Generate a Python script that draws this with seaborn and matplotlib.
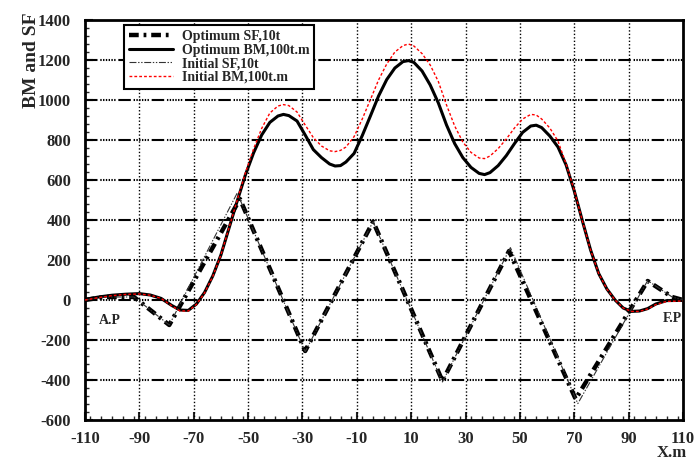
import numpy as np
import pandas as pd
import matplotlib
matplotlib.use("Agg")
import matplotlib.pyplot as plt
import seaborn as sns
from matplotlib.ticker import MultipleLocator, FixedLocator

# Shear force (SF, 10t) polylines
sf_opt_x = [-110, -103, -92, -79, -53, -29, -4, 21.5, 46, 70.5, 97, 106, 110]
sf_opt_y = [0, 15, 15, -125, 505, -255, 392, -405, 245, -495, 95, 15, 0]
sf_init_x = [-110, -103, -92, -79, -54, -29, -4, 21.5, 46.5, 71.3, 97, 106, 110]
sf_init_y = [0, 15, 15, -125, 535, -258, 392, -410, 262, -518, 97, 15, 0]

# Bending moment (BM, 100t.m) sampled along the hull
bm_x = [-110, -105, -100, -95, -90, -86, -82, -78, -75, -72, -69, -66, -63, -60,
        -57, -54, -51, -48, -45, -42, -39, -37, -35, -32, -29, -26, -23, -20,
        -18, -16, -14, -11, -8, -5, -2, 1, 4, 7, 9, 11, 14, 17, 20, 23, 26, 29,
        32, 35, 37, 39, 42, 45, 48, 51, 54, 56, 58, 61, 64, 67, 70, 73, 76, 79,
        82, 85, 88, 91, 94, 97, 100, 104, 110]
bm_opt_y = [3, 15, 24, 29, 32, 25, 8, -28, -50, -52, -20, 38, 120, 225,
            360, 495, 625, 735, 825, 888, 920, 928, 922, 895, 825, 752, 712, 680,
            670, 672, 690, 733, 822, 920, 1020, 1102, 1160, 1192, 1197, 1188, 1145,
            1075, 985, 875, 782, 712, 663, 633, 627, 637, 672, 722, 782, 838, 870,
            874, 862, 820, 765, 675, 545, 395, 250, 132, 55, 0, -40, -57, -55, -43,
            -20, -3, -2]
bm_init_y = [0, 12, 22, 28, 30, 24, 8, -30, -55, -55, -22, 36, 118, 225,
             362, 500, 635, 755, 858, 935, 970, 977, 972, 940, 875, 812, 770, 746,
             742, 748, 765, 817, 905, 1002, 1100, 1180, 1240, 1272, 1280, 1270, 1232,
             1175, 1092, 975, 870, 790, 738, 710, 707, 720, 757, 805, 860, 905, 928,
             925, 905, 860, 795, 680, 548, 395, 250, 132, 55, 0, -40, -57, -57, -45,
             -23, -7, -5]

x_ticks = list(range(-110, 111, 20))
y_ticks = list(range(-600, 1401, 200))

sns.set_style("ticks")
plt.rcParams["font.family"] = ["Liberation Serif", "DejaVu Serif"]
plt.rcParams["font.weight"] = "bold"
plt.rcParams["lines.scale_dashes"] = False
plt.rcParams["axes.unicode_minus"] = False
plt.rcParams["lines.solid_joinstyle"] = "round"
plt.rcParams["lines.dash_joinstyle"] = "round"

fig = plt.figure(figsize=(6.94, 4.62), dpi=100)
ax = fig.add_axes([85 / 694, 1 - 420 / 462, 598 / 694, 400 / 462])

sns.lineplot(x=sf_opt_x, y=sf_opt_y, ax=ax, color="black", linewidth=3.2,
             linestyle=(0, (7, 3.5, 2, 3.5)), sort=False, estimator=None,
             label="Optimum SF,10t", zorder=3)
sns.lineplot(x=bm_x, y=bm_opt_y, ax=ax, color="black", linewidth=2.2,
             sort=False, estimator=None, label="Optimum BM,100t.m", zorder=3)
sns.lineplot(x=sf_init_x, y=sf_init_y, ax=ax, color="#333333", linewidth=0.8,
             linestyle=(0, (5, 1.2, 1, 1.2, 1, 1.2)), sort=False, estimator=None,
             label="Initial SF,10t", zorder=4)
sns.lineplot(x=bm_x, y=bm_init_y, ax=ax, color="red", linewidth=1.0,
             linestyle=(0, (2, 1.5)), sort=False, estimator=None,
             label="Initial BM,100t.m", zorder=4)

ax.set_xlim(-110, 110)
ax.set_ylim(-600, 1400)
ax.xaxis.set_major_locator(FixedLocator(x_ticks))
ax.xaxis.set_minor_locator(MultipleLocator(4))
ax.yaxis.set_major_locator(FixedLocator(y_ticks))
ax.yaxis.set_minor_locator(MultipleLocator(40))
ax.tick_params(which="major", direction="in", length=6, width=1.5,
               labelsize=12, top=False, right=False)
ax.tick_params(which="minor", direction="in", length=3, width=1)
ax.tick_params(axis="x", which="major", pad=8)
ax.tick_params(axis="y", which="major", pad=10)
for lab in ax.get_xticklabels() + ax.get_yticklabels():
    lab.set_fontweight("bold")

# grid: dotted verticals, dash-dot-dot horizontals
ax.grid(False)
for xv in x_ticks[1:-1]:
    ax.axvline(xv, color="black", linewidth=1.0, linestyle=(0, (1, 1.5)), zorder=1)
for yv in y_ticks[1:-1]:
    ax.axhline(yv, color="black", linewidth=1.5,
               linestyle=(0, (9, 2, 1, 1, 1, 1, 1, 1, 1, 1, 1, 1, 1, 2)), zorder=1)

for sp in ax.spines.values():
    sp.set_linewidth(2)
    sp.set_color("black")

ax.set_xlabel("")
ax.set_ylabel("")
fig.text(31 / 694, 1 - 60 / 462, "BM and SF", rotation=90, ha="center",
         va="center", fontsize=14, fontweight="bold")
fig.text(672 / 694, 1 - 461 / 462, "X.m", ha="center", va="bottom",
         fontsize=12, fontweight="bold")
ax.text(-101, -100, "A.P", fontsize=10, fontweight="bold", ha="center", va="center")
ax.text(106, -90, "F.P", fontsize=10, fontweight="bold", ha="center", va="center")

leg = ax.legend(loc="upper left", bbox_to_anchor=((124 - 85) / 598, 1 - 5 / 400),
                borderaxespad=0, fancybox=False, framealpha=1, edgecolor="black",
                prop={"weight": "bold", "size": 10}, handlelength=3.2,
                labelspacing=0.05, borderpad=0.35, handletextpad=0.6)
leg.get_frame().set_linewidth(1.5)

fig.savefig("out.png", dpi=100)
